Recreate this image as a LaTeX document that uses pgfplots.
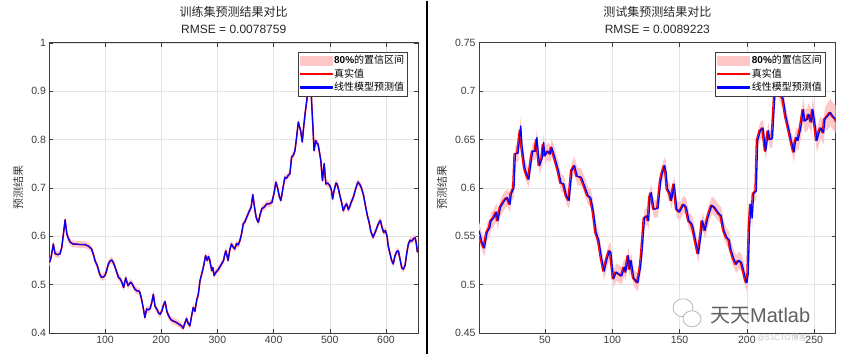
\documentclass[border=0pt]{standalone}
\usepackage{fontspec}
\setmainfont{Liberation Sans}
\newfontfamily\cjk{Noto Sans CJK SC}
\usepackage{pgfplots}
\usepackage{pgfplotstable}
\pgfplotsset{compat=1.18}
\usepgfplotslibrary{fillbetween}
\definecolor{bandpink}{RGB}{255,200,200}
\definecolor{axgray}{RGB}{60,60,60}
\definecolor{myblue}{RGB}{0,0,255}
\definecolor{myred}{RGB}{255,0,0}

\pgfplotstableread{
x y lo hi
1 0.546 0.539 0.553
4 0.556 0.549 0.563
8 0.584 0.577 0.591
11 0.564 0.557 0.571
16 0.562 0.555 0.569
20 0.564 0.557 0.571
23 0.577 0.570 0.584
26 0.605 0.598 0.612
29 0.634 0.627 0.641
32 0.605 0.598 0.612
35 0.595 0.588 0.602
38 0.588 0.581 0.595
43 0.584 0.577 0.591
47 0.584 0.577 0.591
55 0.583 0.576 0.590
64 0.583 0.576 0.590
70 0.580 0.573 0.587
76 0.574 0.567 0.581
80 0.560 0.553 0.567
82 0.550 0.543 0.557
86 0.540 0.533 0.547
88 0.532 0.525 0.539
91 0.520 0.513 0.527
94 0.515 0.508 0.522
97 0.516 0.509 0.523
100 0.519 0.512 0.526
103 0.530 0.523 0.537
106 0.543 0.536 0.550
109 0.549 0.542 0.556
112 0.551 0.544 0.558
115 0.545 0.538 0.552
118 0.536 0.529 0.543
121 0.525 0.518 0.532
124 0.515 0.508 0.522
127 0.512 0.505 0.519
130 0.505 0.498 0.512
133 0.494 0.487 0.501
135 0.505 0.498 0.512
137 0.514 0.507 0.521
139 0.505 0.498 0.512
141 0.498 0.491 0.505
144 0.503 0.496 0.510
146 0.505 0.498 0.512
149 0.500 0.493 0.507
153 0.491 0.484 0.498
157 0.487 0.480 0.494
160 0.487 0.480 0.494
162 0.484 0.477 0.491
165 0.470 0.463 0.477
168 0.452 0.445 0.459
171 0.432 0.425 0.439
174 0.450 0.443 0.457
177 0.448 0.441 0.455
180 0.450 0.443 0.457
183 0.462 0.455 0.469
186 0.480 0.473 0.487
189 0.455 0.448 0.462
192 0.450 0.443 0.457
195 0.442 0.435 0.449
198 0.439 0.432 0.446
201 0.445 0.438 0.452
204 0.458 0.451 0.465
207 0.465 0.458 0.472
210 0.445 0.438 0.452
213 0.436 0.429 0.443
217 0.428 0.421 0.435
221 0.425 0.418 0.432
227 0.422 0.415 0.429
232 0.418 0.411 0.425
236 0.415 0.408 0.422
239 0.410 0.403 0.417
242 0.420 0.413 0.427
245 0.430 0.423 0.437
248 0.420 0.413 0.427
251 0.415 0.408 0.422
254 0.435 0.428 0.442
257 0.453 0.446 0.460
260 0.445 0.438 0.452
263 0.467 0.460 0.474
266 0.480 0.473 0.487
269 0.508 0.501 0.515
272 0.522 0.515 0.529
275 0.536 0.529 0.543
279 0.560 0.553 0.567
282 0.550 0.543 0.557
284 0.558 0.551 0.565
286 0.553 0.546 0.560
288 0.540 0.533 0.547
290 0.529 0.522 0.536
292 0.535 0.528 0.542
294 0.519 0.512 0.526
297 0.525 0.518 0.532
302 0.532 0.525 0.539
306 0.540 0.533 0.547
311 0.550 0.543 0.557
313 0.562 0.555 0.569
315 0.570 0.563 0.577
317 0.560 0.553 0.567
319 0.550 0.543 0.557
322 0.572 0.565 0.579
325 0.584 0.577 0.591
328 0.578 0.571 0.585
331 0.574 0.567 0.581
334 0.585 0.578 0.592
337 0.582 0.575 0.589
340 0.591 0.584 0.598
343 0.605 0.598 0.612
346 0.626 0.619 0.633
349 0.630 0.623 0.637
352 0.639 0.632 0.646
356 0.650 0.643 0.657
360 0.660 0.653 0.667
363 0.686 0.679 0.693
366 0.660 0.653 0.667
369 0.639 0.632 0.646
371 0.633 0.626 0.640
373 0.629 0.622 0.636
376 0.645 0.638 0.652
379 0.657 0.650 0.664
383 0.660 0.653 0.667
388 0.667 0.660 0.674
392 0.667 0.660 0.674
397 0.670 0.663 0.677
401 0.690 0.683 0.697
404 0.712 0.705 0.719
406 0.705 0.698 0.712
408 0.695 0.688 0.702
410 0.683 0.676 0.690
413 0.674 0.667 0.681
416 0.695 0.688 0.702
420 0.722 0.715 0.729
423 0.720 0.713 0.727
426 0.726 0.719 0.733
429 0.729 0.722 0.736
432 0.764 0.757 0.771
435 0.767 0.760 0.774
438 0.777 0.770 0.784
441 0.805 0.798 0.812
444 0.836 0.829 0.843
446 0.827 0.820 0.834
448 0.819 0.812 0.826
451 0.795 0.788 0.802
453 0.820 0.813 0.827
456 0.853 0.846 0.860
459 0.880 0.873 0.887
462 0.908 0.901 0.915
464 0.930 0.923 0.937
466 0.920 0.913 0.927
468 0.870 0.863 0.877
470 0.826 0.819 0.833
472 0.777 0.770 0.784
475 0.798 0.791 0.805
477 0.792 0.785 0.799
479 0.791 0.784 0.798
481 0.778 0.771 0.785
484 0.757 0.750 0.764
487 0.715 0.708 0.722
490 0.750 0.743 0.757
493 0.708 0.701 0.715
496 0.710 0.703 0.717
500 0.705 0.698 0.712
503 0.695 0.688 0.702
505 0.677 0.670 0.684
507 0.690 0.683 0.697
509 0.701 0.694 0.708
511 0.710 0.703 0.717
513 0.708 0.701 0.715
516 0.695 0.688 0.702
518 0.684 0.677 0.691
521 0.670 0.663 0.677
524 0.653 0.646 0.660
527 0.662 0.655 0.669
530 0.667 0.660 0.674
533 0.655 0.648 0.662
535 0.660 0.653 0.667
538 0.670 0.663 0.677
542 0.681 0.674 0.688
546 0.698 0.691 0.705
550 0.712 0.705 0.719
553 0.708 0.701 0.715
556 0.701 0.694 0.708
560 0.685 0.678 0.692
564 0.660 0.653 0.667
567 0.642 0.635 0.649
570 0.629 0.622 0.636
573 0.610 0.603 0.617
577 0.598 0.591 0.605
580 0.606 0.599 0.613
583 0.615 0.608 0.622
586 0.625 0.618 0.632
590 0.633 0.626 0.640
593 0.618 0.611 0.625
596 0.608 0.601 0.615
599 0.612 0.605 0.619
602 0.600 0.593 0.607
604 0.580 0.573 0.587
607 0.565 0.558 0.572
610 0.550 0.543 0.557
613 0.543 0.536 0.550
616 0.560 0.553 0.567
619 0.568 0.561 0.575
622 0.570 0.563 0.577
625 0.553 0.546 0.560
628 0.535 0.528 0.542
631 0.532 0.525 0.539
634 0.540 0.533 0.547
637 0.565 0.558 0.572
640 0.585 0.578 0.592
643 0.592 0.585 0.599
646 0.590 0.583 0.597
649 0.595 0.588 0.602
652 0.597 0.590 0.604
654 0.585 0.578 0.592
656 0.567 0.560 0.574
}\Ltrain

\pgfplotstableread{
x p lo hi
1 0.556 0.547 0.565
3 0.545 0.536 0.554
5 0.538 0.529 0.547
7 0.554 0.545 0.563
9 0.559 0.550 0.568
10 0.566 0.557 0.575
12 0.569 0.560 0.578
14 0.575 0.566 0.584
15 0.566 0.557 0.575
17 0.580 0.571 0.589
20 0.587 0.578 0.596
22 0.590 0.581 0.599
23 0.587 0.578 0.596
24 0.583 0.574 0.592
25 0.594 0.585 0.603
27 0.600 0.591 0.609
28 0.635 0.626 0.644
30 0.636 0.627 0.645
31 0.649 0.640 0.658
32 0.664 0.655 0.673
33 0.643 0.634 0.652
35 0.621 0.612 0.630
36 0.616 0.607 0.625
38 0.609 0.600 0.618
40 0.630 0.621 0.639
41 0.638 0.629 0.647
43 0.638 0.629 0.647
44 0.652 0.643 0.661
45 0.637 0.628 0.646
46 0.623 0.614 0.632
48 0.631 0.622 0.640
49 0.647 0.638 0.656
50 0.633 0.624 0.642
52 0.638 0.629 0.647
54 0.635 0.626 0.644
55 0.642 0.633 0.651
57 0.633 0.624 0.642
60 0.618 0.609 0.627
62 0.605 0.596 0.614
64 0.604 0.595 0.613
66 0.592 0.583 0.601
68 0.587 0.578 0.596
70 0.618 0.609 0.627
72 0.623 0.614 0.632
74 0.612 0.603 0.621
77 0.611 0.602 0.620
80 0.600 0.591 0.609
82 0.592 0.583 0.601
84 0.590 0.581 0.599
86 0.576 0.567 0.585
88 0.554 0.545 0.563
90 0.546 0.537 0.555
92 0.528 0.519 0.537
94 0.514 0.505 0.523
96 0.526 0.517 0.535
98 0.535 0.526 0.544
99 0.533 0.524 0.542
101 0.506 0.497 0.515
103 0.513 0.504 0.522
105 0.511 0.502 0.520
107 0.509 0.500 0.518
109 0.518 0.509 0.527
110 0.513 0.504 0.522
112 0.530 0.521 0.539
113 0.516 0.507 0.525
114 0.525 0.516 0.534
116 0.507 0.498 0.516
119 0.502 0.493 0.511
121 0.518 0.509 0.527
122 0.532 0.523 0.541
124 0.569 0.560 0.578
126 0.571 0.562 0.580
127 0.566 0.557 0.575
128 0.590 0.581 0.599
129 0.595 0.586 0.604
131 0.578 0.569 0.587
134 0.579 0.570 0.588
136 0.607 0.598 0.616
137 0.614 0.605 0.623
139 0.623 0.614 0.632
140 0.616 0.607 0.625
141 0.599 0.590 0.608
143 0.594 0.585 0.603
144 0.587 0.578 0.596
146 0.604 0.595 0.613
148 0.578 0.569 0.587
150 0.575 0.566 0.584
153 0.583 0.574 0.592
155 0.580 0.571 0.589
157 0.566 0.557 0.575
159 0.563 0.554 0.572
160 0.559 0.550 0.568
162 0.545 0.536 0.554
164 0.532 0.523 0.541
166 0.552 0.543 0.561
167 0.566 0.557 0.575
169 0.556 0.547 0.565
171 0.569 0.560 0.578
174 0.582 0.573 0.591
176 0.580 0.571 0.589
179 0.574 0.565 0.583
181 0.571 0.562 0.580
183 0.556 0.547 0.565
185 0.549 0.540 0.558
187 0.546 0.537 0.555
188 0.537 0.528 0.546
190 0.528 0.519 0.537
192 0.521 0.512 0.530
194 0.525 0.516 0.534
196 0.523 0.514 0.532
197 0.518 0.509 0.527
199 0.506 0.497 0.515
200 0.502 0.493 0.511
201 0.511 0.502 0.520
202 0.559 0.550 0.568
203 0.583 0.574 0.592
204 0.569 0.560 0.578
205 0.594 0.585 0.603
207 0.597 0.588 0.606
208 0.649 0.640 0.658
210 0.659 0.650 0.668
212 0.662 0.653 0.671
214 0.638 0.629 0.647
216 0.659 0.650 0.668
217 0.650 0.641 0.659
219 0.651 0.642 0.660
220 0.676 0.667 0.685
221 0.700 0.691 0.709
222 0.706 0.697 0.715
225 0.697 0.688 0.706
227 0.692 0.683 0.701
229 0.674 0.665 0.683
231 0.662 0.653 0.671
233 0.649 0.640 0.658
235 0.637 0.626 0.648
236 0.647 0.636 0.658
237 0.652 0.641 0.663
238 0.649 0.638 0.660
240 0.662 0.650 0.674
242 0.681 0.669 0.693
243 0.669 0.657 0.681
245 0.671 0.659 0.683
246 0.676 0.664 0.688
248 0.668 0.656 0.680
249 0.681 0.669 0.693
251 0.662 0.650 0.674
252 0.649 0.637 0.661
254 0.659 0.647 0.671
255 0.662 0.650 0.674
257 0.657 0.645 0.669
258 0.671 0.659 0.683
260 0.674 0.660 0.688
262 0.678 0.664 0.692
264 0.674 0.660 0.688
266 0.671 0.657 0.685
}\Rpred

\pgfplotstableread{
x y
1 0.550
2 0.545
4 0.538
6 0.554
8 0.559
9 0.566
11 0.569
13 0.575
14 0.566
16 0.580
19 0.587
21 0.590
22 0.587
23 0.583
24 0.594
26 0.600
27 0.635
29 0.636
30 0.649
31 0.660
32 0.643
34 0.621
35 0.616
37 0.609
39 0.630
40 0.638
42 0.638
43 0.650
44 0.637
45 0.623
47 0.631
48 0.645
49 0.633
51 0.638
53 0.635
54 0.642
56 0.633
59 0.618
61 0.605
63 0.604
65 0.592
67 0.587
69 0.618
71 0.623
73 0.612
76 0.611
79 0.600
81 0.592
83 0.590
85 0.576
87 0.554
89 0.546
91 0.528
93 0.514
95 0.526
97 0.535
98 0.533
100 0.506
102 0.513
104 0.511
106 0.509
108 0.518
109 0.513
111 0.530
112 0.516
113 0.525
115 0.507
118 0.502
120 0.518
121 0.532
123 0.569
125 0.571
126 0.566
127 0.590
128 0.595
130 0.578
133 0.579
135 0.607
136 0.614
138 0.623
139 0.616
140 0.599
142 0.594
143 0.587
145 0.604
147 0.578
149 0.575
152 0.583
154 0.580
156 0.566
158 0.563
159 0.559
161 0.545
163 0.532
165 0.552
166 0.566
168 0.556
170 0.569
173 0.582
175 0.580
178 0.574
180 0.571
182 0.556
184 0.549
186 0.546
187 0.537
189 0.528
191 0.521
193 0.525
195 0.523
196 0.518
198 0.506
199 0.502
200 0.511
201 0.559
202 0.583
203 0.569
204 0.594
206 0.597
207 0.649
209 0.659
211 0.662
213 0.638
215 0.659
216 0.650
218 0.651
219 0.676
220 0.700
221 0.706
224 0.697
226 0.692
228 0.674
230 0.662
232 0.649
234 0.637
235 0.647
236 0.652
237 0.649
239 0.662
241 0.681
242 0.669
244 0.671
245 0.676
247 0.668
248 0.681
250 0.662
251 0.649
253 0.659
254 0.662
256 0.657
257 0.671
259 0.674
261 0.678
263 0.674
265 0.671
266 0.668
}\Rtrue

\pgfplotsset{
  mystyle/.style={
    scale only axis,
    axis line style={axgray, line width=0.6pt},
    tick style={axgray, line width=0.5pt},
    tick align=inside,
    major tick length=4pt,
    grid=major,
    major grid style={gray!22, line width=0.5pt},
    ticklabel style={font=\fontsize{10.5}{12}\selectfont, text=axgray},
    /pgf/number format/assume math mode=true,
    title style={at={(axis description cs:0.5,1)}, anchor=south, yshift=3pt, align=center,
      font=\fontsize{12}{17}\selectfont, text=black!85, inner sep=0pt},
    ylabel style={anchor=center, font=\cjk\fontsize{11}{12}\selectfont, text=axgray},
    legend cell align=left,
    legend style={at={(rel axis cs:1,1)}, anchor=north east, xshift=-10pt, yshift=-9pt,
      font=\fontsize{10}{11}\selectfont, inner sep=1.5pt, row sep=-0.5pt,
      draw=axgray, line width=0.6pt, fill=white},
    every axis plot/.append style={line join=round},
  },
}

\begin{document}
\begin{tikzpicture}
\path (0,0) rectangle (848pt,353pt);

\begin{axis}[mystyle,
  at={(49.4pt,20.7pt)}, anchor=south west,
  width=368.6pt, height=290.3pt,
  xmin=1, xmax=657, ymin=0.4, ymax=1,
  xtick={100,200,300,400,500,600},
  ytick={0.4,0.5,0.6,0.7,0.8,0.9,1},
  yticklabels={0.4,0.5,0.6,0.7,0.8,0.9,1},
  title={{\cjk 训练集预测结果对比}\\RMSE = 0.0078759},
  ylabel={预测结果},
  ylabel style={at={(axis description cs:-0.085,0.5)}},
]
\addlegendimage{legend image code/.code={\fill[bandpink] (0pt,-4.5pt) rectangle (32pt,4.5pt);}}
\addlegendentry{\textbf{80\%}{\cjk 的置信区间}}
\addlegendimage{legend image code/.code={\fill[myred] (0pt,-0.75pt) rectangle (32pt,0.75pt);}}
\addlegendentry{{\cjk 真实值}}
\addlegendimage{legend image code/.code={\fill[myblue] (0pt,-0.8pt) rectangle (32pt,0.8pt);}}
\addlegendentry{{\cjk 线性模型预测值}}
\addplot[name path=Llo, draw=none, forget plot] table[x=x, y=lo]{\Ltrain};
\addplot[name path=Lhi, draw=none, forget plot] table[x=x, y=hi]{\Ltrain};
\addplot[fill=bandpink, draw=none, forget plot] fill between[of=Llo and Lhi];
\addplot[myred, line width=1.5pt, forget plot] table[x=x, y=y]{\Ltrain};
\addplot[myblue, line width=1.2pt, forget plot] table[x=x, y=y]{\Ltrain};
\end{axis}

\draw[black, line width=1.5pt] (427pt,0pt) -- (427pt,353pt);

\begin{axis}[mystyle,
  at={(479pt,20.7pt)}, anchor=south west,
  width=356.7pt, height=290.3pt,
  xmin=1, xmax=266, ymin=0.45, ymax=0.75,
  xtick={50,100,150,200,250},
  ytick={0.45,0.5,0.55,0.6,0.65,0.7,0.75},
  yticklabels={0.45,0.5,0.55,0.6,0.65,0.7,0.75},
  title={{\cjk 测试集预测结果对比}\\RMSE = 0.0089223},
  ylabel={预测结果},
  ylabel style={at={(axis description cs:-0.104,0.5)}},
]
\addlegendimage{legend image code/.code={\fill[bandpink] (0pt,-4.5pt) rectangle (32pt,4.5pt);}}
\addlegendentry{\textbf{80\%}{\cjk 的置信区间}}
\addlegendimage{legend image code/.code={\fill[myred] (0pt,-0.75pt) rectangle (32pt,0.75pt);}}
\addlegendentry{{\cjk 真实值}}
\addlegendimage{legend image code/.code={\fill[myblue] (0pt,-0.8pt) rectangle (32pt,0.8pt);}}
\addlegendentry{{\cjk 线性模型预测值}}
\addplot[name path=Rlo, draw=none, forget plot] table[x=x, y=lo]{\Rpred};
\addplot[name path=Rhi, draw=none, forget plot] table[x=x, y=hi]{\Rpred};
\addplot[fill=bandpink, draw=none, forget plot] fill between[of=Rlo and Rhi];
\addplot[myred, line width=1.3pt, forget plot] table[x=x, y=y]{\Rtrue};
\addplot[myblue, line width=1.3pt, forget plot] table[x=x, y=p]{\Rpred};
\end{axis}

% watermark
\draw[gray!70, line width=0.6pt, fill=white] (683pt,46pt) ellipse (10pt and 9pt);
\draw[gray!70, line width=0.6pt, fill=white] (692pt,35pt) ellipse (9pt and 8pt);
\node[anchor=west, text=gray!75!black, font=\fontsize{20}{22}\selectfont, inner sep=0pt]
  at (710pt,38pt) {{\cjk 天天}Matlab};
\node[anchor=west, text=gray!45, font=\fontsize{8}{9}\selectfont, inner sep=0pt]
  at (757pt,16pt) {@51CTO{\cjk 博客}};
\end{tikzpicture}
\end{document}
